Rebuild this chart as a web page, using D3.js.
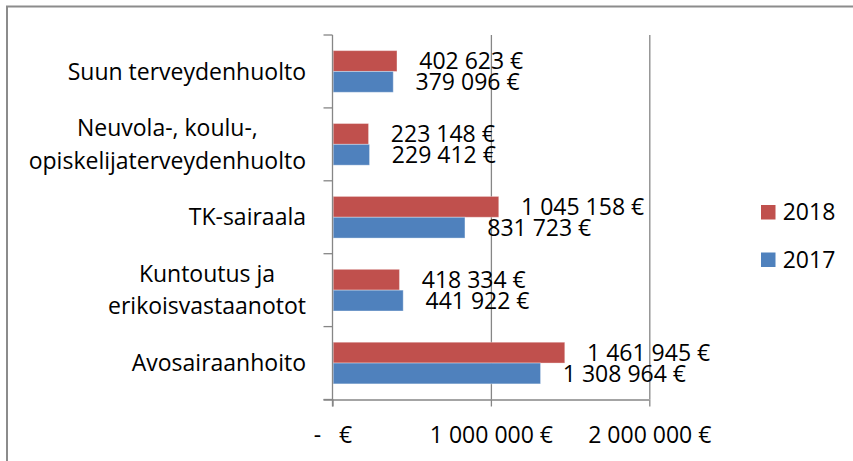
<!DOCTYPE html>
<html>
<head>
<meta charset="utf-8">
<script src="https://cdn.jsdelivr.net/npm/d3@7"></script>
<style>
  html, body { margin: 0; padding: 0; background: #fff; }
  svg { display: block; }
  text { font-family: "Open Sans", Lato, sans-serif; fill: #000; }
</style>
</head>
<body>
<svg id="chart" width="853" height="461"></svg>
<script>
// ---- data ----
const categories = [
  "Suun terveydenhuolto",
  "Neuvola-, koulu-,\nopiskelijaterveydenhuolto",
  "TK-sairaala",
  "Kuntoutus ja\nerikoisvastaanotot",
  "Avosairaanhoito"
];
const seriesNames = ["2018", "2017"];
const values2018 = [402623, 223148, 1045158, 418334, 1461945];
const values2017 = [379096, 229412, 831723, 441922, 1308964];
const xTickValues = [0, 1000000, 2000000];
const xTickLabels = ["-   €", "1 000 000 €", "2 000 000 €"];
const colors = { "2018": "#C0504D", "2017": "#4F81BD" };

// ---- layout ----
const svg = d3.select("#chart");
const fontSize = 23;
const capH = 16.2;
const axisColor = "#868686";
const plot = { left: 332.5, right: 649.3, top: 35, bottom: 399.5 };

// chart border (left and top only visible, cropped)
svg.append("path")
  .attr("d", `M7,470 L7,6.5 L860,6.5`)
  .attr("fill", "none").attr("stroke", "#8c8c8c").attr("stroke-width", 2);

const x = d3.scaleLinear().domain([0, 2000000]).range([plot.left, plot.right]);
const y = d3.scaleBand().domain(categories).range([plot.top, plot.bottom]).padding(0);
const ySub = d3.scaleBand().domain(seriesNames).range([0, y.bandwidth()])
  .paddingInner(0).paddingOuter(0.75);

// gridlines
svg.append("g")
  .attr("transform", `translate(0,${plot.bottom})`)
  .call(d3.axisBottom(x).tickValues(xTickValues.slice(1)).tickSize(-(plot.bottom - plot.top)).tickFormat(""))
  .call(g => g.select(".domain").remove())
  .call(g => g.selectAll("line").attr("stroke", axisColor).attr("stroke-width", 1.3));

// bars
const data = [];
categories.forEach((c, i) => {
  data.push({ cat: c, s: "2018", v: values2018[i] });
  data.push({ cat: c, s: "2017", v: values2017[i] });
});
svg.append("g").selectAll("rect").data(data).join("rect")
  .attr("x", x(0) + 0.7)
  .attr("y", d => y(d.cat) + ySub(d.s))
  .attr("width", d => x(d.v) - x(0))
  .attr("height", ySub.bandwidth())
  .attr("fill", d => colors[d.s])
  .attr("stroke", "rgba(255,255,255,0.35)")
  .attr("stroke-width", 1);

// value labels
const loc = d3.formatLocale({ decimal: ",", thousands: " ", grouping: [3], currency: ["", " €"] });
const fmt = loc.format(",.0f");
svg.append("g").selectAll("text").data(data).join("text")
  .attr("x", d => x(d.v) + 23)
  .attr("y", d => y(d.cat) + ySub(d.s) + ySub.bandwidth() / 2 + capH / 2)
  .attr("font-size", fontSize)
  .text(d => fmt(d.v) + " €");

// x axis
const xAxis = svg.append("g")
  .attr("transform", `translate(0,${plot.bottom})`)
  .call(d3.axisBottom(x).tickValues(xTickValues).tickSize(7).tickSizeOuter(0)
    .tickFormat((d, i) => xTickLabels[i]));
xAxis.select(".domain").attr("stroke", axisColor).attr("stroke-width", 1.3)
  .attr("d", `M${plot.left - 9},0.5H${plot.right}`);
xAxis.selectAll("line").attr("stroke", axisColor).attr("stroke-width", 1.3);
xAxis.selectAll("text")
  .attr("font-size", fontSize).attr("font-family", "'Open Sans', sans-serif")
  .attr("fill", "#000").attr("dy", null).attr("y", 43.2)
  .style("white-space", "pre");

// category axis
const catAxis = svg.append("g").attr("stroke", axisColor).attr("stroke-width", 1.3);
catAxis.append("line").attr("x1", plot.left).attr("x2", plot.left)
  .attr("y1", plot.top).attr("y2", plot.bottom + 7);
const bounds = categories.map(c => y(c)).concat([plot.bottom]);
catAxis.selectAll("line.tick").data(bounds).join("line").attr("class", "tick")
  .attr("x1", plot.left - 9).attr("x2", plot.left)
  .attr("y1", d => d).attr("y2", d => d);

// category labels
const lineH = 32.3;
const labelRight = 306;
categories.forEach(c => {
  const lines = c.split("\n");
  const cy = y(c) + y.bandwidth() / 2;
  const t = svg.append("text").attr("font-size", fontSize).attr("text-anchor", "middle");
  const spans = lines.map((ln, j) => t.append("tspan")
    .attr("y", cy - (lines.length - 1) * lineH / 2 + j * lineH + capH / 2)
    .text(ln));
  const maxW = d3.max(spans, s => s.node().getComputedTextLength());
  spans.forEach(s => s.attr("x", labelRight - maxW / 2));
});

// legend
const legend = svg.append("g");
const legendY = { "2018": 205, "2017": 252.5 };
seriesNames.forEach(s => {
  legend.append("rect").attr("x", 761).attr("y", legendY[s]).attr("width", 14.5).attr("height", 14.5)
    .attr("fill", colors[s]);
  legend.append("text").attr("x", 782.7).attr("y", legendY[s] + 15)
    .attr("font-size", fontSize).text(s);
});
</script>
</body>
</html>
